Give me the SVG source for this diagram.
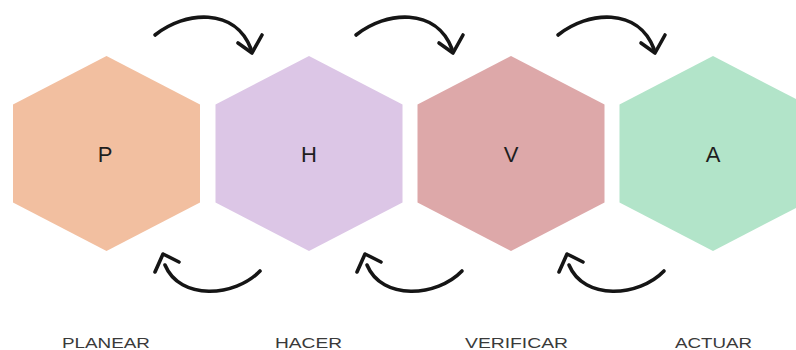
<svg xmlns="http://www.w3.org/2000/svg" width="796" height="350" viewBox="0 0 796 350">
<defs>
<style>
.hex{stroke:none}
.letter{font-family:"Liberation Sans",Arial,sans-serif;font-size:22px;fill:#1e1e1e;text-anchor:middle}
.label{font-family:"Liberation Sans",Arial,sans-serif;font-size:15.5px;fill:#3a3a3a;text-anchor:middle}
.arc{fill:none;stroke:#151515;stroke-width:3.6;stroke-linecap:round;stroke-linejoin:round}
</style>
<polygon id="hexshape" points="0,-97.5 93.5,-49 93.5,49 0,97.5 -93.5,49 -93.5,-49"/>
<g id="arrowTop">
<path class="arc" d="M0,0 C30,-24 80,-28 96,14"/>
<path class="arc" d="M83,8 L97,18 L107,0"/>
</g>
<g id="arrowBottom">
<path class="arc" d="M0,0 C-25,26 -80,30 -95,-6"/>
<path class="arc" d="M-105,1 L-97,-17 L-81,-9"/>
</g>
</defs>
<rect width="796" height="350" fill="#ffffff"/>
<g id="node-P">
<use href="#hexshape" class="hex" x="106.5" y="153.5" fill="#F2BFA0"/>
<text class="letter" x="105" y="162">P</text>
<text class="label" x="106" y="348" textLength="88" lengthAdjust="spacingAndGlyphs">PLANEAR</text>
</g>
<g id="node-H">
<use href="#hexshape" class="hex" x="309" y="153.5" fill="#DCC6E6"/>
<text class="letter" x="309" y="162">H</text>
<text class="label" x="308.5" y="348" textLength="67" lengthAdjust="spacingAndGlyphs">HACER</text>
</g>
<g id="node-V">
<use href="#hexshape" class="hex" x="511" y="153.5" fill="#DDA8A9"/>
<text class="letter" x="511" y="162">V</text>
<text class="label" x="516.5" y="348" textLength="103" lengthAdjust="spacingAndGlyphs">VERIFICAR</text>
</g>
<g id="node-A">
<use href="#hexshape" class="hex" x="713" y="153.5" fill="#B2E4C9"/>
<text class="letter" x="713" y="162">A</text>
<text class="label" x="713.5" y="348" textLength="77" lengthAdjust="spacingAndGlyphs">ACTUAR</text>
</g>
<g id="connectors">
<use href="#arrowTop" x="155" y="35"/>
<use href="#arrowTop" x="356" y="35"/>
<use href="#arrowTop" x="558" y="35"/>
<use href="#arrowBottom" x="260" y="271"/>
<use href="#arrowBottom" x="462" y="271"/>
<use href="#arrowBottom" x="664" y="271"/>
</g>
</svg>
